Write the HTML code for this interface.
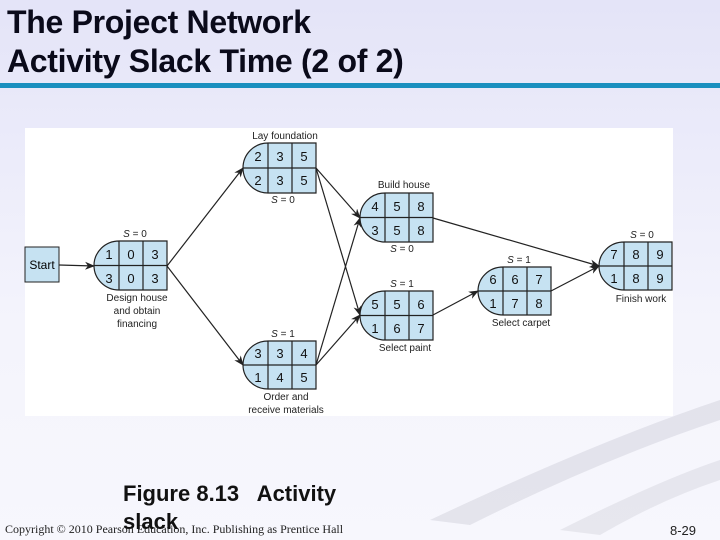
<!DOCTYPE html>
<html><head><meta charset="utf-8"><style>
html,body{margin:0;padding:0}
body{width:720px;height:540px;overflow:hidden;position:relative;background:linear-gradient(#e4e4f8,#f4f4fc 60%,#f7f7fd);font-family:"Liberation Sans",sans-serif}
.t{position:absolute;left:7px;font-weight:bold;font-size:32px;color:#0a0a1a;letter-spacing:-0.3px;line-height:36px}
</style></head><body>
<div class="t" style="top:4px">The Project Network</div>
<div class="t" style="top:43px">Activity Slack Time (2 of 2)</div>
<div style="position:absolute;left:0;top:83px;width:720px;height:5px;background:#1a8fbf"></div>
<svg width="720" height="540" style="position:absolute;left:0;top:0" font-family="Liberation Sans, sans-serif">
<defs><marker id="a" markerWidth="10" markerHeight="8" refX="9" refY="4" orient="auto" markerUnits="userSpaceOnUse"><path d="M0,0 L10,4 L0,8 L3,4Z" fill="#222"/></marker></defs>
<path d="M430,520 Q600,440 720,400 L720,420 Q600,460 470,525Z" fill="#dcdce4" opacity="0.7"/>
<path d="M560,530 Q660,480 720,460 L720,480 Q660,500 600,535Z" fill="#dcdce4" opacity="0.6"/>
<rect x="25" y="128" width="648" height="288" fill="#fff"/>
<g stroke="#222" stroke-width="1.2" marker-end="url(#a)" fill="none">
<line x1="59" y1="265" x2="94" y2="266"/>
<line x1="167" y1="266" x2="243" y2="168"/>
<line x1="167" y1="266" x2="243" y2="365"/>
<line x1="316" y1="168" x2="360" y2="218"/>
<line x1="316" y1="168" x2="360" y2="315"/>
<line x1="316" y1="365" x2="360" y2="218"/>
<line x1="316" y1="365" x2="360" y2="315"/>
<line x1="433" y1="218" x2="599" y2="266"/>
<line x1="433" y1="315" x2="478" y2="291"/>
<line x1="551" y1="291" x2="599" y2="266"/>
</g>
<rect x="25" y="247" width="34" height="35" fill="#c6e2f2" stroke="#222" stroke-width="1"/>
<text x="42" y="269" font-size="12" text-anchor="middle">Start</text>
<g stroke="#222" stroke-width="1.2" fill="#c6e2f2">
<path d="M119,241 H167 V290 H119 A25 24.5 0 0 1 119,241Z M94,265.5 H167 M119,241 V290 M143,241 V290"/>
<path d="M268,143 H316 V193 H268 A25 25 0 0 1 268,143Z M243,168 H316 M268,143 V193 M292,143 V193"/>
<path d="M268,341 H316 V389 H268 A25 24 0 0 1 268,341Z M243,365 H316 M268,341 V389 M292,341 V389"/>
<path d="M385,193 H433 V242 H385 A25 24.5 0 0 1 385,193Z M360,217.5 H433 M385,193 V242 M409,193 V242"/>
<path d="M385,291 H433 V340 H385 A25 24.5 0 0 1 385,291Z M360,315.5 H433 M385,291 V340 M409,291 V340"/>
<path d="M503,267 H551 V315 H503 A25 24 0 0 1 503,267Z M478,291 H551 M503,267 V315 M527,267 V315"/>
<path d="M624,242 H672 V290 H624 A25 24 0 0 1 624,242Z M599,266 H672 M624,242 V290 M648,242 V290"/>
</g>
<g font-size="13" text-anchor="middle" fill="#111">
<text x="109" y="259">1</text><text x="131" y="259">0</text><text x="155" y="259">3</text>
<text x="109" y="283">3</text><text x="131" y="283">0</text><text x="155" y="283">3</text>
<text x="258" y="161">2</text><text x="280" y="161">3</text><text x="304" y="161">5</text>
<text x="258" y="185">2</text><text x="280" y="185">3</text><text x="304" y="185">5</text>
<text x="258" y="358">3</text><text x="280" y="358">3</text><text x="304" y="358">4</text>
<text x="258" y="382">1</text><text x="280" y="382">4</text><text x="304" y="382">5</text>
<text x="375" y="211">4</text><text x="397" y="211">5</text><text x="421" y="211">8</text>
<text x="375" y="235">3</text><text x="397" y="235">5</text><text x="421" y="235">8</text>
<text x="375" y="309">5</text><text x="397" y="309">5</text><text x="421" y="309">6</text>
<text x="375" y="333">1</text><text x="397" y="333">6</text><text x="421" y="333">7</text>
<text x="493" y="284">6</text><text x="515" y="284">6</text><text x="539" y="284">7</text>
<text x="493" y="308">1</text><text x="515" y="308">7</text><text x="539" y="308">8</text>
<text x="614" y="259">7</text><text x="636" y="259">8</text><text x="660" y="259">9</text>
<text x="614" y="283">1</text><text x="636" y="283">8</text><text x="660" y="283">9</text>
</g>
<g font-size="10" text-anchor="middle" fill="#222">
<text x="285" y="139">Lay foundation</text>
<text x="283" y="203"><tspan font-style="italic">S</tspan> = 0</text>
<text x="135" y="237"><tspan font-style="italic">S</tspan> = 0</text>
<text x="137" y="301">Design house</text><text x="137" y="314">and obtain</text><text x="137" y="327">financing</text>
<text x="283" y="337"><tspan font-style="italic">S</tspan> = 1</text>
<text x="286" y="400">Order and</text><text x="286" y="413">receive materials</text>
<text x="404" y="188">Build house</text>
<text x="402" y="252"><tspan font-style="italic">S</tspan> = 0</text>
<text x="402" y="287"><tspan font-style="italic">S</tspan> = 1</text>
<text x="405" y="351">Select paint</text>
<text x="519" y="263"><tspan font-style="italic">S</tspan> = 1</text>
<text x="521" y="326">Select carpet</text>
<text x="642" y="238"><tspan font-style="italic">S</tspan> = 0</text>
<text x="641" y="302">Finish work</text>
</g>
<text x="5" y="533" font-family="Liberation Serif, serif" font-size="12" fill="#222">Copyright © 2010 Pearson Education, Inc. Publishing as Prentice Hall</text>
<text x="670" y="535" font-size="13" fill="#222">8-29</text>
<text x="123" y="501" font-size="22" font-weight="bold" fill="#111" xml:space="preserve">Figure 8.13   Activity</text>
<text x="123" y="529" font-size="22" font-weight="bold" fill="#111">slack</text>
</svg>
</body></html>
